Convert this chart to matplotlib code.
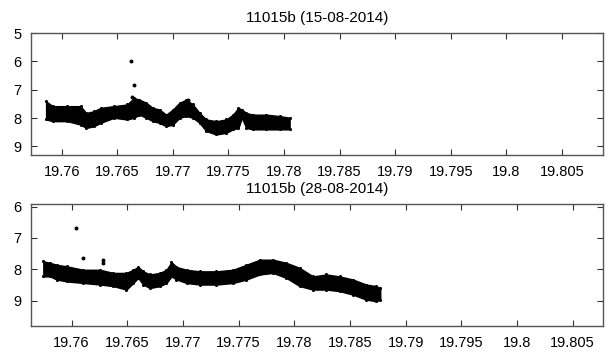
import numpy as np
import matplotlib.pyplot as plt

plt.rcParams['font.family'] = ['Liberation Sans', 'DejaVu Sans']

# 15-08-2014 band (time in days, magnitude)
t1 = [19.7586, 19.7592, 19.7605, 19.7617, 19.7622, 19.7629, 19.7635, 19.7647,
      19.7659, 19.7665, 19.7670, 19.7676, 19.7682, 19.7688, 19.7694, 19.7700,
      19.7706, 19.7712, 19.7718, 19.7724, 19.7730, 19.7739, 19.7748, 19.7754,
      19.7759, 19.7762, 19.7766, 19.7772, 19.7784, 19.7796, 19.7805]
up1 = [7.41, 7.58, 7.58, 7.58, 7.82, 7.76, 7.64, 7.58, 7.52, 7.29, 7.35, 7.46,
       7.64, 7.70, 7.88, 7.70, 7.46, 7.35, 7.52, 7.82, 8.05, 8.11, 8.05, 7.88,
       7.64, 7.70, 7.82, 7.88, 7.88, 7.93, 7.99]
lo1 = [8.05, 8.11, 8.11, 8.23, 8.35, 8.29, 8.17, 7.99, 8.05, 7.99, 7.88, 7.99,
       8.11, 8.17, 8.29, 8.23, 7.99, 7.93, 7.99, 8.17, 8.46, 8.58, 8.52, 8.40,
       8.35, 7.99, 8.35, 8.40, 8.40, 8.40, 8.40]
out_t1 = [19.7662, 19.7665, 19.7663, 19.7714]
out_m1 = [6.00, 6.82, 7.27, 7.37]

# 28-08-2014 band
t2 = [19.75746, 19.75806, 19.75865, 19.75955, 19.76105, 19.76254, 19.76374,
      19.76493, 19.76553, 19.76598, 19.76643, 19.76703, 19.76792, 19.76852,
      19.76897, 19.76942, 19.77032, 19.77151, 19.77301, 19.77450, 19.77570,
      19.77690, 19.77809, 19.77929, 19.78048, 19.78168, 19.78288, 19.78407,
      19.78527, 19.78646, 19.78736, 19.78772]
up2 = [7.74, 7.79, 7.85, 7.90, 8.01, 8.01, 8.11, 8.11, 8.01, 7.92, 8.06, 8.16,
       8.11, 8.01, 7.77, 7.92, 8.01, 8.06, 8.06, 8.01, 7.85, 7.69, 7.69, 7.79,
       7.95, 8.22, 8.16, 8.22, 8.32, 8.48, 8.53, 8.59]
lo2 = [8.22, 8.22, 8.32, 8.38, 8.43, 8.48, 8.53, 8.64, 8.43, 8.27, 8.48, 8.59,
       8.53, 8.43, 8.22, 8.32, 8.43, 8.48, 8.48, 8.43, 8.32, 8.16, 8.11, 8.27,
       8.53, 8.64, 8.64, 8.69, 8.80, 8.96, 9.01, 8.96]
out_t2 = [19.76039, 19.76105, 19.76284, 19.76284]
out_m2 = [6.68, 7.63, 7.69, 7.79]

xticks = [19.76, 19.765, 19.77, 19.775, 19.78, 19.785, 19.79, 19.795, 19.8, 19.805]
xlabels = ['19.76', '19.765', '19.77', '19.775', '19.78', '19.785', '19.79',
           '19.795', '19.8', '19.805']

fig = plt.figure(figsize=(6.07, 3.56), dpi=100)
ax1 = fig.add_axes([0.051, 0.565, 0.942, 0.342])
ax2 = fig.add_axes([0.051, 0.084, 0.942, 0.343])

panels = [
    (ax1, t1, up1, lo1, out_t1, out_m1, '11015b (15-08-2014)',
     (19.75724, 19.80866), (9.3, 5.0), [5, 6, 7, 8, 9]),
    (ax2, t2, up2, lo2, out_t2, out_m2, '11015b (28-08-2014)',
     (19.75635, 19.8077), (9.8, 5.92), [6, 7, 8, 9]),
]

for ax, t, up, lo, ot, om, title, xl, yl, yt in panels:
    ax.fill_between(t, up, lo, color='black', lw=1.0, edgecolor='black')
    ax.scatter(t, up, s=5, color='black', linewidths=0)
    ax.scatter(t, lo, s=5, color='black', linewidths=0)
    ax.scatter(ot, om, s=8, color='black', linewidths=0)
    ax.set_xlim(*xl)
    ax.set_ylim(*yl)
    ax.set_xticks(xticks)
    ax.set_xticklabels(xlabels)
    ax.set_yticks(yt)
    ax.tick_params(direction='in', top=True, right=True, length=4,
                   labelsize=10.5, pad=7, color='#333333')
    for s in ax.spines.values():
        s.set_color('#555555')
        s.set_linewidth(1.0)
    ax.set_title(title, fontsize=11, pad=8)

fig.savefig('out.png', dpi=100)
